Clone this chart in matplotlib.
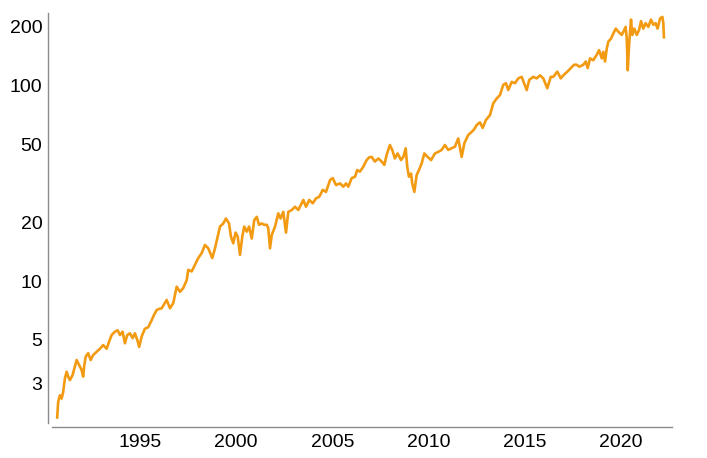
import numpy as np
import matplotlib
matplotlib.use("Agg")
import matplotlib.pyplot as plt

plt.rcParams['font.family'] = ['Liberation Sans', 'DejaVu Sans']

# decimal years and price values
years = [
    1990.70, 1990.75, 1990.84, 1990.93, 1991.01, 1991.10, 1991.19, 1991.27, 1991.36, 1991.50,
    1991.62, 1991.71, 1991.84, 1991.97, 1992.05, 1992.10, 1992.18, 1992.31, 1992.44, 1992.57,
    1992.75, 1992.92, 1993.09, 1993.27, 1993.40, 1993.53, 1993.70, 1993.84, 1993.96, 1994.10,
    1994.22, 1994.34, 1994.48, 1994.62, 1994.74, 1994.86, 1994.96, 1995.09, 1995.26, 1995.43,
    1995.61, 1995.73, 1995.87, 1996.00, 1996.13, 1996.39, 1996.56, 1996.73, 1996.91, 1997.08,
    1997.25, 1997.43, 1997.51, 1997.69, 1997.86, 1998.03, 1998.21, 1998.38, 1998.55, 1998.76,
    1998.90, 1999.04, 1999.16, 1999.33, 1999.47, 1999.63, 1999.73, 1999.85, 1999.97, 2000.08,
    2000.20, 2000.32, 2000.42, 2000.55, 2000.67, 2000.81, 2000.94, 2001.07, 2001.19, 2001.33,
    2001.46, 2001.59, 2001.67, 2001.76, 2001.85, 2002.02, 2002.19, 2002.31, 2002.45, 2002.59,
    2002.71, 2002.89, 2003.06, 2003.23, 2003.40, 2003.49, 2003.63, 2003.80, 2003.98, 2004.15,
    2004.32, 2004.50, 2004.67, 2004.88, 2005.02, 2005.19, 2005.40, 2005.57, 2005.71, 2005.83,
    2006.00, 2006.18, 2006.29, 2006.43, 2006.61, 2006.78, 2006.92, 2007.04, 2007.21, 2007.39,
    2007.56, 2007.70, 2007.82, 2007.99, 2008.11, 2008.25, 2008.39, 2008.57, 2008.69, 2008.81,
    2008.89, 2008.98, 2009.09, 2009.15, 2009.26, 2009.38, 2009.50, 2009.64, 2009.78, 2009.95,
    2010.13, 2010.33, 2010.50, 2010.68, 2010.85, 2011.02, 2011.20, 2011.37, 2011.54, 2011.72,
    2011.86, 2012.06, 2012.24, 2012.38, 2012.50, 2012.67, 2012.81, 2012.98, 2013.19, 2013.36,
    2013.54, 2013.71, 2013.88, 2014.02, 2014.14, 2014.32, 2014.49, 2014.66, 2014.84, 2014.96,
    2015.10, 2015.23, 2015.44, 2015.62, 2015.79, 2015.96, 2016.17, 2016.35, 2016.48, 2016.69,
    2016.87, 2017.00, 2017.21, 2017.39, 2017.56, 2017.70, 2017.83, 2018.04, 2018.17, 2018.27,
    2018.39, 2018.56, 2018.74, 2018.86, 2019.00, 2019.08, 2019.17, 2019.26, 2019.34, 2019.48,
    2019.60, 2019.73, 2019.86, 2020.04, 2020.17, 2020.24, 2020.30, 2020.35, 2020.42, 2020.52,
    2020.59, 2020.69, 2020.82, 2020.94, 2021.04, 2021.16, 2021.28, 2021.42, 2021.56, 2021.68,
    2021.80, 2021.90, 2022.03, 2022.15, 2022.20, 2022.23,
]
prices = [
    2.0, 2.4, 2.6, 2.5, 2.7, 3.17, 3.43, 3.24, 3.11, 3.3,
    3.65, 3.94, 3.71, 3.5, 3.24, 3.65, 4.1, 4.27, 3.94, 4.18,
    4.34, 4.5, 4.7, 4.5, 4.9, 5.29, 5.5, 5.6, 5.29, 5.5,
    4.8, 5.29, 5.4, 5.1, 5.4, 5.0, 4.6, 5.2, 5.7, 5.8,
    6.3, 6.7, 7.1, 7.2, 7.25, 8.0, 7.25, 7.7, 9.35, 8.8,
    9.2, 10.1, 11.4, 11.2, 12.1, 13.1, 13.9, 15.3, 14.7, 13.1,
    14.7, 16.9, 19.0, 19.7, 20.9, 19.7, 16.9, 15.6, 17.7, 16.9,
    13.6, 16.9, 19.0, 17.9, 19.0, 16.5, 20.5, 21.3, 19.4, 19.7,
    19.4, 19.4, 18.6, 14.7, 17.2, 19.0, 22.2, 20.9, 22.6, 17.7,
    22.6, 23.1, 24.0, 23.1, 25.0, 26.0, 24.0, 26.0, 25.0, 26.5,
    27.0, 29.3, 28.6, 32.9, 33.6, 31.0, 31.6, 30.4, 31.6, 30.4,
    33.6, 34.2, 37.0, 36.3, 38.5, 41.6, 43.0, 43.2, 40.9, 42.4,
    40.9, 39.3, 44.2, 49.7, 46.9, 42.4, 45.0, 41.6, 43.2, 47.8,
    38.5, 34.2, 35.5, 31.6, 28.6, 34.9, 37.0, 40.0, 45.0, 43.2,
    41.6, 45.0, 45.8, 46.9, 49.7, 46.9, 47.8, 48.7, 53.7, 43.2,
    50.8, 55.9, 58.0, 60.0, 62.9, 64.9, 60.8, 66.7, 70.7, 81.2,
    86.0, 89.5, 101, 103, 95, 104.6, 103, 109, 111, 103,
    95, 107, 111, 109, 113, 109, 97, 111, 111, 118,
    109, 113, 118, 123, 128, 128, 125, 128, 133, 123,
    138, 135, 144, 152, 138, 149, 133, 155, 168, 174,
    185, 196, 189, 182, 193, 200, 174, 120, 162, 218,
    182, 196, 182, 193, 214, 196, 209, 200, 218, 205,
    209, 196, 221, 225, 209, 177,
]

ytick_vals = [3, 5, 10, 20, 50, 100, 200]
xtick_years = [1995, 2000, 2005, 2010, 2015, 2020]

fig = plt.figure(figsize=(7.07, 4.58), dpi=100)
ax = fig.add_axes([52 / 707, 35 / 458, 620 / 707, 410 / 458])

ax.plot(years, prices, color='#F29A11', lw=1.9, solid_joinstyle='round')

ax.set_yscale('log')
ax.set_ylim(1.875, 235.6)
ax.set_xlim(1990.43, 2022.65)
ax.set_yticks(ytick_vals)
ax.set_yticklabels([str(v) for v in ytick_vals])
ax.yaxis.set_minor_locator(matplotlib.ticker.NullLocator())
ax.set_xticks(xtick_years)
ax.set_xticklabels([str(v) for v in xtick_years])

for s in ['top', 'right']:
    ax.spines[s].set_visible(False)
for s in ['left', 'bottom']:
    ax.spines[s].set_position(('outward', 3))
    ax.spines[s].set_color('#8a8a8a')
    ax.spines[s].set_linewidth(1.0)

ax.tick_params(axis='both', length=0, labelsize=14, colors='black')
ax.tick_params(axis='y', pad=4)
ax.tick_params(axis='x', pad=5)

fig.savefig('out.png', dpi=100)
